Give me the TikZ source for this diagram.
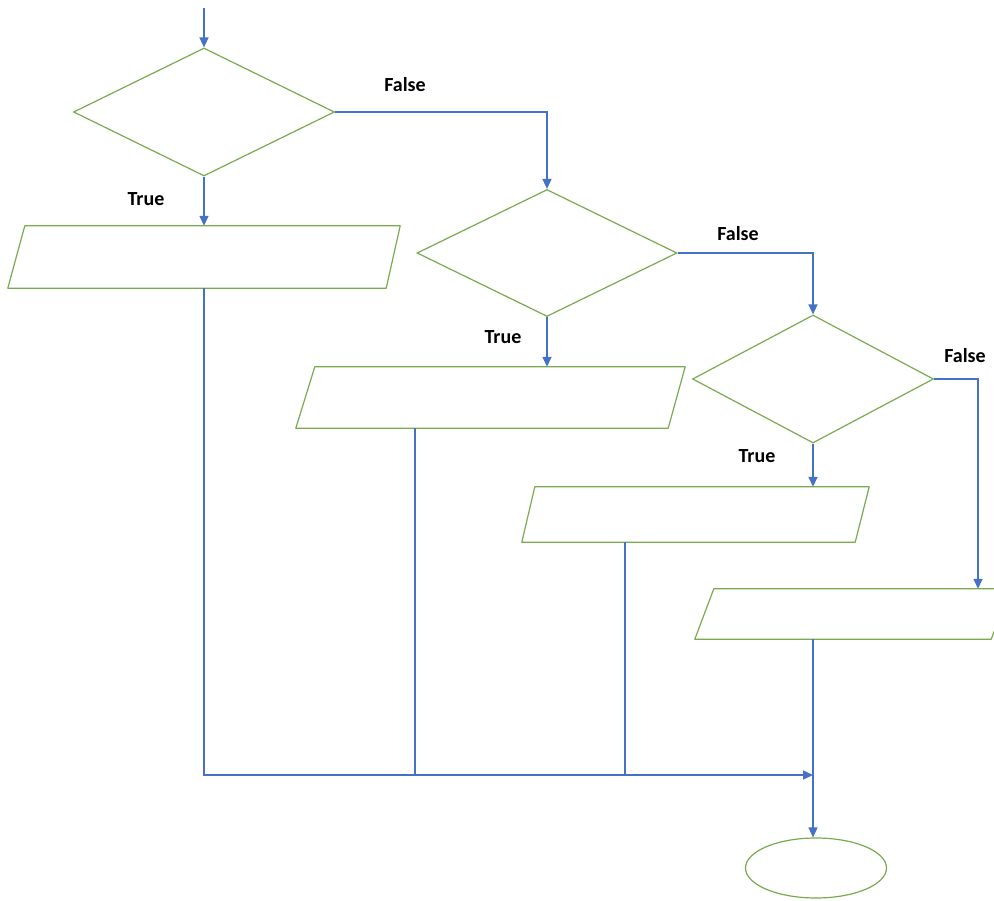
\documentclass[tikz,border=0pt]{standalone}
\usepackage{fontspec}
\setmainfont{Carlito}
\usetikzlibrary{shapes.geometric,arrows.meta}

\definecolor{boxgreen}{RGB}{122,170,80}
\definecolor{flowblue}{RGB}{68,114,196}

\tikzset{
    cond/.style={diamond, draw=boxgreen, line width=1.2pt, inner sep=0pt},
    io/.style={rectangle, inner sep=0pt},
    ioline/.style={draw=boxgreen, line width=1.2pt, line join=round},
    flow/.style={draw=flowblue, line width=1.5pt, -{Triangle[length=10pt,width=9pt]}},
    line/.style={draw=flowblue, line width=1.5pt},
    lbl/.style={font=\fontsize{20}{24}\selectfont\bfseries}
}

\begin{document}
\begin{tikzpicture}[x=1pt, y=-1pt]

    \useasboundingbox (0, 0) rectangle (994, 901);

    % Условия
    \node[cond, minimum width=261pt, minimum height=128pt] (d1) at (204, 112) {};
    \node[cond, minimum width=260pt, minimum height=127pt] (d2) at (547, 253) {};
    \node[cond, minimum width=241pt, minimum height=128pt] (d3) at (813, 379) {};

    % Блоки
    \node[io, minimum width=392pt, minimum height=62pt] (p1) at (204, 257) {};
    \node[io, minimum width=389pt, minimum height=61pt] (p2) at (490.5, 397.5) {};
    \node[io, minimum width=347pt, minimum height=55pt] (p3) at (695.5, 514.5) {};
    \node[io, minimum width=315pt, minimum height=50pt] (p4) at (852.5, 614) {};

    \draw[ioline] (p1.south west) -- ([xshift=-14pt]p1.south east) -- (p1.north east)
        -- ([xshift=17pt]p1.north west) -- cycle;
    \draw[ioline] (p2.south west) -- ([xshift=-17pt]p2.south east) -- (p2.north east)
        -- ([xshift=19pt]p2.north west) -- cycle;
    \draw[ioline] (p3.south west) -- ([xshift=-14pt]p3.south east) -- (p3.north east)
        -- ([xshift=13pt]p3.north west) -- cycle;
    \draw[ioline] (p4.south west) -- ([xshift=-19pt]p4.south east) -- (p4.north east)
        -- ([xshift=19pt]p4.north west) -- cycle;

    \node[ellipse, draw=boxgreen, line width=1.2pt,
          minimum width=141pt, minimum height=60pt] (stop) at (816, 868) {};

    % Точки
    \coordinate (start) at (204, 8);
    \coordinate (f1) at (547, 112);
    \coordinate (f2) at (813, 253);
    \coordinate (f3) at (978, 379);
    \coordinate (j2) at (415, 775);
    \coordinate (j3) at (625, 775);
    \coordinate (m) at (813, 775);

    % Стрелки
    \draw[flow] (start) -- (d1.north);
    \draw[flow] (d1.south) -- (p1.north);
    \draw[flow] (d1.east) -- (f1) -- (d2.north);
    \draw[flow] (d2.south) -- (d2.south |- p2.north);
    \draw[flow] (d2.east) -- (f2) -- (d3.north);
    \draw[flow] (d3.south) -- (d3.south |- p3.north);
    \draw[flow] (d3.east) -- (f3) -- (f3 |- p4.north);

    \draw[flow] (p1.south) |- (m);
    \draw[line] (p2.south -| j2) -- (j2);
    \draw[line] (p3.south -| j3) -- (j3);
    \draw[flow] (p4.south -| m) -- (stop.north -| m);

    % Подписи
    \node[lbl] (t1) at (146, 199) {True};
    \node[lbl] (n1) at (405, 85) {False};
    \node[lbl] (t2) at (503, 337) {True};
    \node[lbl] (n2) at (738, 234) {False};
    \node[lbl] (t3) at (757, 456) {True};
    \node[lbl] (n3) at (965, 356) {False};

\end{tikzpicture}
\end{document}
